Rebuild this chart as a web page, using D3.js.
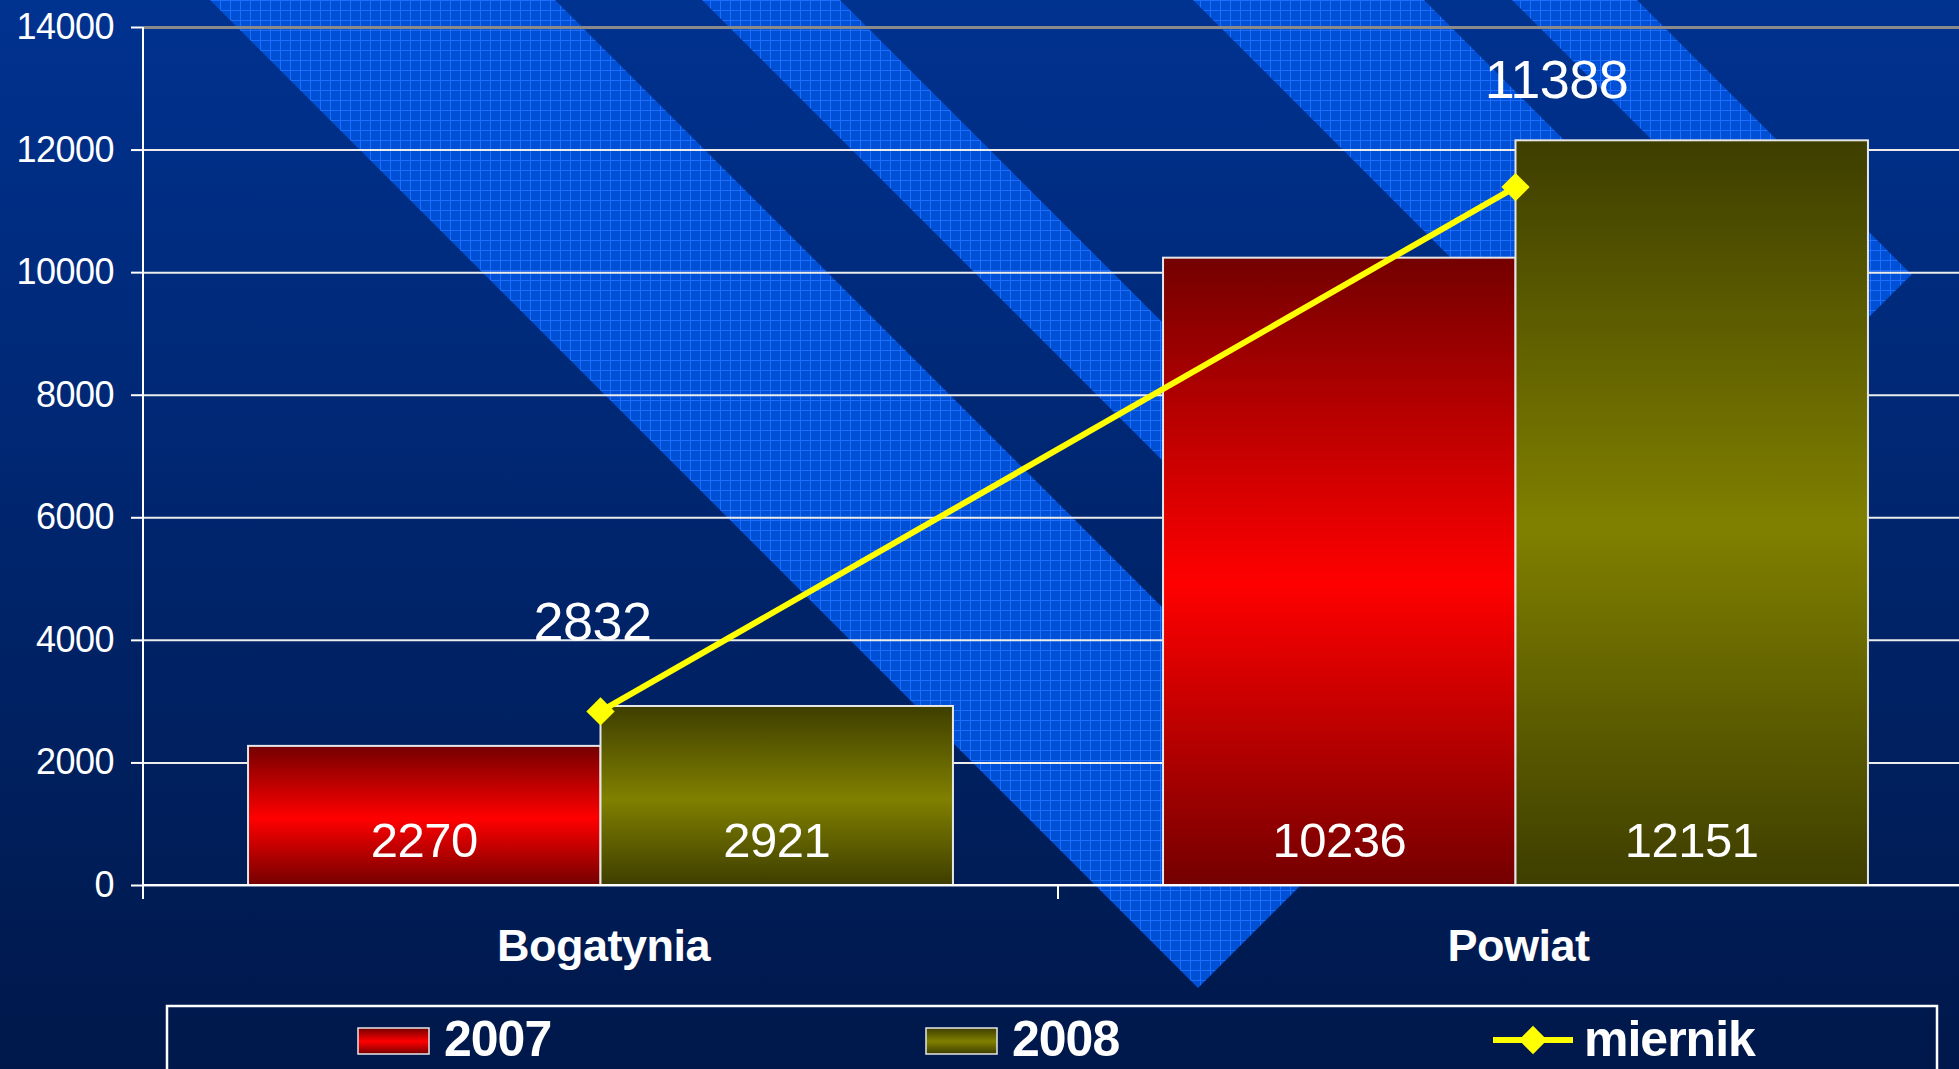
<!DOCTYPE html>
<html>
<head>
<meta charset="utf-8">
<script src="https://cdn.jsdelivr.net/npm/d3@7"></script>
<style>
  html, body { margin: 0; padding: 0; background: #00184a; overflow: hidden; }
  svg { display: block; font-family: "Liberation Sans", Arial, sans-serif; }
</style>
</head>
<body>
<div id="chart"></div>
<script>
// data
const categories = ["Bogatynia", "Powiat"];
const series = ["2007", "2008"];
const values2007 = [2270, 10236];
const values2008 = [2921, 12151];
const miernik = [2832, 11388];
const yTicks = [0, 2000, 4000, 6000, 8000, 10000, 12000, 14000];

const width = 1959, height = 1069;

var svg = d3.select("#chart").append("svg")
    .attr("width", width)
    .attr("height", height);

var defs = svg.append("defs");

// page background
var bg = defs.append("linearGradient").attr("id", "bg")
    .attr("x1", 0).attr("y1", 0).attr("x2", 0).attr("y2", 1);
bg.append("stop").attr("offset", "0%").attr("stop-color", "#003290");
bg.append("stop").attr("offset", "100%").attr("stop-color", "#00184a");

// checked texture of the light stripes
var pat = defs.append("pattern").attr("id", "grid")
    .attr("width", 10).attr("height", 10)
    .attr("patternUnits", "userSpaceOnUse");
pat.append("rect").attr("width", 10).attr("height", 10).attr("fill", "#0050d6");
pat.append("path").attr("d", "M0 0.5H10M0.5 0V10")
    .attr("stroke", "#1f6dff").attr("stroke-width", 1);

// bar fills: dark - bright - dark
function barGradient(id, dark, bright) {
    var g = defs.append("linearGradient").attr("id", id)
        .attr("x1", 0).attr("y1", 0).attr("x2", 0).attr("y2", 1);
    g.append("stop").attr("offset", "0%").attr("stop-color", dark);
    g.append("stop").attr("offset", "52%").attr("stop-color", bright);
    g.append("stop").attr("offset", "100%").attr("stop-color", dark);
}
barGradient("g2007", "#740000", "#ff0000");
barGradient("g2008", "#3e3e00", "#808000");
var fills = {"2007": "url(#g2007)", "2008": "url(#g2008)"};

svg.append("rect").attr("width", width).attr("height", height).attr("fill", "url(#bg)");

// diagonal stripes (x - y ranges), cut by the line x + y = cut
var stripes = [[210, 555], [702, 840], [1193, 1424], [1512, 1637]];
var cut = 2186;
svg.selectAll(".stripe")
    .data(stripes)
    .enter().append("polygon")
    .attr("class", "stripe")
    .attr("fill", "url(#grid)")
    .attr("points", function (d) {
        var a = d[0], b = d[1];
        return [[a, 0], [b, 0], [(cut + b) / 2, (cut - b) / 2], [(cut + a) / 2, (cut - a) / 2]]
            .map(function (p) { return p.join(","); }).join(" ");
    });

// scales
var x0 = d3.scaleBand().domain(categories).range([143, 1973]);
var x1 = d3.scaleBand().domain(series).range([0, x0.bandwidth()]).paddingOuter(0.298);
var y = d3.scaleLinear().domain([0, 14000]).range([885, 27]);

// gridlines
svg.append("g")
    .attr("transform", "translate(143,0)")
    .call(d3.axisLeft(y).tickValues(yTicks).tickSize(-(width - 143)).tickFormat(""))
    .call(function (g) {
        g.select(".domain").remove();
        g.selectAll(".tick line")
            .attr("stroke", function (d) { return d === 14000 ? "#8a8a8a" : "#ececec"; })
            .attr("stroke-width", function (d) { return d === 14000 ? 3 : 2; });
    });

// bars
var rows = [];
categories.forEach(function (c, i) {
    rows.push({cat: c, s: "2007", v: values2007[i]});
    rows.push({cat: c, s: "2008", v: values2008[i]});
});

svg.selectAll(".bar")
    .data(rows)
    .enter().append("rect")
    .attr("class", "bar")
    .attr("x", function (d) { return x0(d.cat) + x1(d.s); })
    .attr("y", function (d) { return y(d.v); })
    .attr("width", x1.bandwidth())
    .attr("height", function (d) { return y(0) - y(d.v); })
    .attr("fill", function (d) { return fills[d.s]; })
    .attr("stroke", "#e6e6e6")
    .attr("stroke-width", 2);

svg.selectAll(".barLabel")
    .data(rows)
    .enter().append("text")
    .attr("class", "barLabel")
    .attr("x", function (d) { return x0(d.cat) + x1(d.s) + x1.bandwidth() / 2; })
    .attr("y", y(0) - 28)
    .attr("text-anchor", "middle")
    .attr("fill", "#fff")
    .style("font-size", "49px")
    .style("letter-spacing", "-0.5px")
    .text(function (d) { return d.v; });

// y axis
svg.append("g")
    .attr("transform", "translate(143,0)")
    .call(d3.axisLeft(y).tickValues(yTicks).tickSize(12).tickPadding(17).tickFormat(d3.format("d")))
    .call(function (g) {
        g.select(".domain").remove();
        g.selectAll(".tick line").attr("stroke", "#fff").attr("stroke-width", 2);
        g.selectAll(".tick text").attr("fill", "#fff").style("font-size", "36px")
            .style("letter-spacing", "-0.5px")
            .style("font-family", "'Liberation Sans', Arial, sans-serif");
    });
svg.append("line")
    .attr("x1", 143).attr("x2", 143).attr("y1", y(14000)).attr("y2", y(0) + 14)
    .attr("stroke", "#fff").attr("stroke-width", 2);

// x axis
svg.append("line")
    .attr("x1", 143).attr("x2", width).attr("y1", y(0)).attr("y2", y(0))
    .attr("stroke", "#fff").attr("stroke-width", 2);
svg.selectAll(".catTick")
    .data(categories.slice(1))
    .enter().append("line")
    .attr("class", "catTick")
    .attr("x1", function (d) { return x0(d); }).attr("x2", function (d) { return x0(d); })
    .attr("y1", y(0)).attr("y2", y(0) + 14)
    .attr("stroke", "#fff").attr("stroke-width", 2);
svg.selectAll(".catLabel")
    .data(categories)
    .enter().append("text")
    .attr("class", "catLabel")
    .attr("x", function (d) { return x0(d) + x0.bandwidth() / 2 + 3; })
    .attr("y", 961)
    .attr("text-anchor", "middle")
    .attr("fill", "#fff")
    .style("font-size", "45px")
    .style("font-weight", "bold")
    .style("letter-spacing", "-0.5px")
    .text(function (d) { return d; });

// miernik line
var cx = function (d, i) { return x0(categories[i]) + x0.bandwidth() / 2; };
var line = d3.line()
    .x(function (d, i) { return cx(d, i); })
    .y(function (d) { return y(d); });

svg.append("path")
    .datum(miernik)
    .attr("d", line)
    .attr("fill", "none")
    .attr("stroke", "#ffff00")
    .attr("stroke-width", 6);

var diamond = d3.symbol().type(d3.symbolSquare).size(400);
svg.selectAll(".marker")
    .data(miernik)
    .enter().append("path")
    .attr("class", "marker")
    .attr("d", diamond)
    .attr("fill", "#ffff00")
    .attr("transform", function (d, i) { return "translate(" + cx(d, i) + "," + y(d) + ") rotate(45)"; });

// label nudges as placed in the picture
var nudge = [[-8, -71], [41, -89]];
svg.selectAll(".lineLabel")
    .data(miernik)
    .enter().append("text")
    .attr("class", "lineLabel")
    .attr("x", function (d, i) { return cx(d, i) + nudge[i][0]; })
    .attr("y", function (d, i) { return y(d) + nudge[i][1]; })
    .attr("text-anchor", "middle")
    .attr("fill", "#fff")
    .style("font-size", "54px")
    .style("letter-spacing", "-0.5px")
    .text(function (d) { return d; });

// legend
svg.append("rect")
    .attr("x", 167).attr("y", 1006).attr("width", 1770).attr("height", 120)
    .attr("fill", "none").attr("stroke", "#fff").attr("stroke-width", 2.5);

var legendItems = series.concat(["miernik"]);
var lg = svg.selectAll(".legendItem")
    .data(legendItems)
    .enter().append("g")
    .attr("class", "legendItem")
    .attr("transform", function (d, i) { return "translate(" + (358 + i * 568) + ",1028)"; });

lg.filter(function (d) { return d !== "miernik"; })
    .append("rect")
    .attr("width", 71).attr("height", 26)
    .attr("fill", function (d) { return fills[d]; })
    .attr("stroke", "#e6e6e6").attr("stroke-width", 1.5);

var lm = lg.filter(function (d) { return d === "miernik"; });
lm.append("line")
    .attr("x1", -1).attr("x2", 79).attr("y1", 12).attr("y2", 12)
    .attr("stroke", "#ffff00").attr("stroke-width", 6);
lm.append("path")
    .attr("d", diamond)
    .attr("fill", "#ffff00")
    .attr("transform", "translate(39,12) rotate(45)");

lg.append("text")
    .attr("x", function (d) { return d === "miernik" ? 90 : 86; })
    .attr("y", 28)
    .attr("fill", "#fff")
    .style("font-size", "50px")
    .style("font-weight", "bold")
    .style("letter-spacing", "-1px")
    .text(function (d) { return d; });
</script>
</body>
</html>
